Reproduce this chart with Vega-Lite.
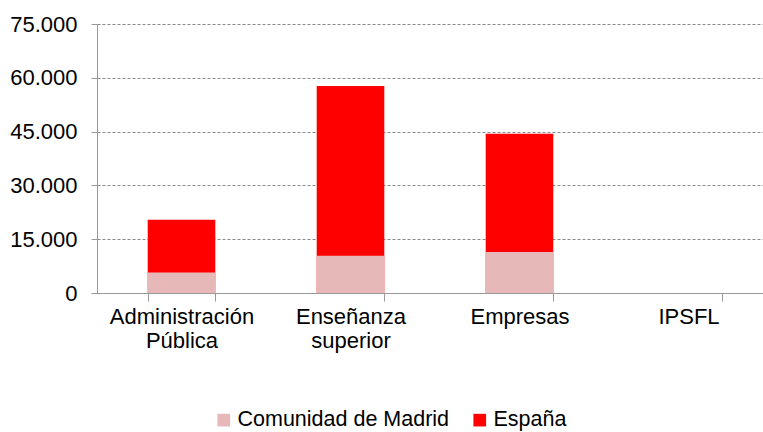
{
  "$schema": "https://vega.github.io/schema/vega-lite/v6.json",
  "width": 666,
  "height": 269,
  "autosize": {"type": "none"},
  "padding": {"left": 97, "top": 24, "right": 0, "bottom": 139},
  "background": "white",
  "data": {
    "values": [
      {"sector": "Administración Pública", "serie": "España", "valor": 20400},
      {"sector": "Enseñanza superior", "serie": "España", "valor": 57700},
      {"sector": "Empresas", "serie": "España", "valor": 44400},
      {"sector": "IPSFL", "serie": "España", "valor": 0},
      {"sector": "Administración Pública", "serie": "Comunidad de Madrid", "valor": 5700},
      {"sector": "Enseñanza superior", "serie": "Comunidad de Madrid", "valor": 10400},
      {"sector": "Empresas", "serie": "Comunidad de Madrid", "valor": 11400},
      {"sector": "IPSFL", "serie": "Comunidad de Madrid", "valor": 0}
    ]
  },
  "mark": {"type": "bar"},
  "encoding": {
    "x": {
      "field": "sector",
      "type": "nominal",
      "sort": ["Administración Pública", "Enseñanza superior", "Empresas", "IPSFL"],
      "scale": {"range": [0, 676], "paddingInner": 0.6, "paddingOuter": 0.3},
      "axis": {
        "title": null,
        "labelAngle": 0,
        "tickBand": "extent",
        "tickSize": 8,
        "tickColor": "#999999",
        "domainColor": "#999999",
        "labelFontSize": 22,
        "labelColor": "#000000",
        "labelFont": "Liberation Sans",
        "labelExpr": "split(datum.label, ' ')",
        "labelLineHeight": 24,
        "labelBaseline": "top",
        "labelPadding": 5,
        "labelLimit": 0,
        "grid": false
      }
    },
    "y": {
      "field": "valor",
      "type": "quantitative",
      "stack": null,
      "scale": {"domain": [0, 75000], "nice": false},
      "axis": {
        "title": null,
        "values": [0, 15000, 30000, 45000, 60000, 75000],
        "labelExpr": "replace(format(datum.value, ','), ',', '.')",
        "grid": true,
        "gridDash": [3, 2],
        "gridColor": "#888888",
        "domainColor": "#999999",
        "tickColor": "#999999",
        "tickSize": 6,
        "labelPadding": 14,
        "labelFontSize": 22,
        "labelColor": "#000000",
        "labelFont": "Liberation Sans"
      }
    },
    "color": {
      "field": "serie",
      "type": "nominal",
      "scale": {"domain": ["Comunidad de Madrid", "España"], "range": ["#E6B8B7", "#FF0000"]},
      "legend": {
        "title": null,
        "orient": "none",
        "direction": "horizontal",
        "legendX": 116,
        "legendY": 385,
        "symbolType": "square",
        "symbolSize": 160,
        "symbolStrokeWidth": 0,
        "labelFontSize": 21.5,
        "labelColor": "#000000",
        "labelFont": "Liberation Sans",
        "labelOffset": 3,
        "labelLimit": 0,
        "columnPadding": 19
      }
    }
  },
  "config": {"view": {"stroke": null}, "font": "Liberation Sans"}
}
